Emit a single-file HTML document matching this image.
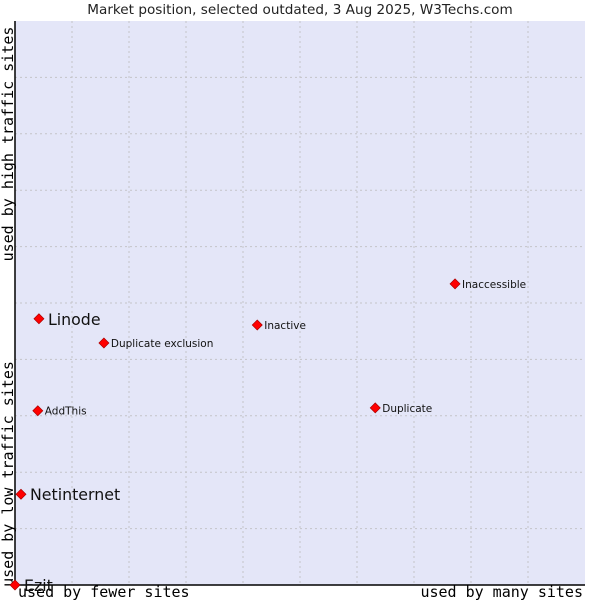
<!DOCTYPE html>
<html><head><meta charset="utf-8"><style>
body{margin:0;background:#fff;width:600px;height:600px;overflow:hidden}
svg{display:block}
</style></head><body>
<svg id="chart" width="600" height="600" xmlns="http://www.w3.org/2000/svg">
<text x="300" y="14" text-anchor="middle" font-family="DejaVu Sans, sans-serif" font-size="13.6" fill="#222">Market position, selected outdated, 3 Aug 2025, W3Techs.com</text>
<rect x="15" y="21" width="570" height="564" fill="#e4e6f8"/>
<g id="grid"></g>
<line x1="15" y1="21" x2="15" y2="585" stroke="#000" stroke-width="1.5"/>
<line x1="15" y1="585" x2="585" y2="585" stroke="#000" stroke-width="1.5"/>
<text transform="translate(13,144) rotate(-90)" text-anchor="middle" font-family="DejaVu Sans Mono, monospace" font-size="15" fill="#000">used by high traffic sites</text>
<text transform="translate(13,474) rotate(-90)" text-anchor="middle" font-family="DejaVu Sans Mono, monospace" font-size="15" fill="#000">used by low traffic sites</text>
<text x="18" y="597" font-family="DejaVu Sans Mono, monospace" font-size="15" fill="#000">used by fewer sites</text>
<text x="583" y="597" text-anchor="end" font-family="DejaVu Sans Mono, monospace" font-size="15" fill="#000">used by many sites</text>
<g id="points"></g>
</svg>
<script>
const names=["Linode","Netinternet","Ezit","AddThis","Duplicate exclusion","Inactive","Inaccessible","Duplicate"];
const xValues=[4.2,1.05,0,4.0,15.6,42.5,77.2,63.2];
const yValues=[47.2,16.1,0,30.9,42.9,46.1,53.4,31.4];
const bigLabel=[true,true,true,false,false,false,false,false];
const L=15,T=21,W=570,H=564;
const sx=v=>L+v/100*W, sy=v=>T+H-v/100*H;
const NS="http://www.w3.org/2000/svg";
const grid=document.getElementById('grid');
for(let i=1;i<10;i++){
 const x=L+i*W/10;
 const l=document.createElementNS(NS,'line');
 
 
 l.setAttribute('x1',x);l.setAttribute('x2',x);l.setAttribute('y1',T);l.setAttribute('y2',T+H);
 l.setAttribute('stroke','#c4c4c8');l.setAttribute('stroke-dasharray','2,3');grid.appendChild(l);
 const y=T+i*H/10;
 const h=document.createElementNS(NS,'line');
 
 
 h.setAttribute('x1',L);h.setAttribute('x2',L+W);h.setAttribute('y1',y);h.setAttribute('y2',y);
 h.setAttribute('stroke','#c4c4c8');h.setAttribute('stroke-dasharray','2,3');grid.appendChild(h);
}
const pts=document.getElementById('points');
names.forEach((n,i)=>{
 const x=sx(xValues[i]),y=sy(yValues[i]);
 const p=document.createElementNS(NS,'path');
 
 
 p.setAttribute('d',`M${x} ${y-5}L${x+5} ${y}L${x} ${y+5}L${x-5} ${y}Z`);
 p.setAttribute('fill','#f00');p.setAttribute('stroke','#a00');p.setAttribute('stroke-width','0.7');
 pts.appendChild(p);
 const t=document.createElementNS(NS,'text');
 
 
 t.setAttribute('x',x+(bigLabel[i]?9:7));
 t.setAttribute('y',y+(bigLabel[i]?6:4));
 t.setAttribute('font-family','DejaVu Sans, sans-serif');
 t.setAttribute('font-size',bigLabel[i]?15.8:10.5);
 t.setAttribute('fill','#111');
 t.textContent=n;pts.appendChild(t);
});
</script>
</body></html>
